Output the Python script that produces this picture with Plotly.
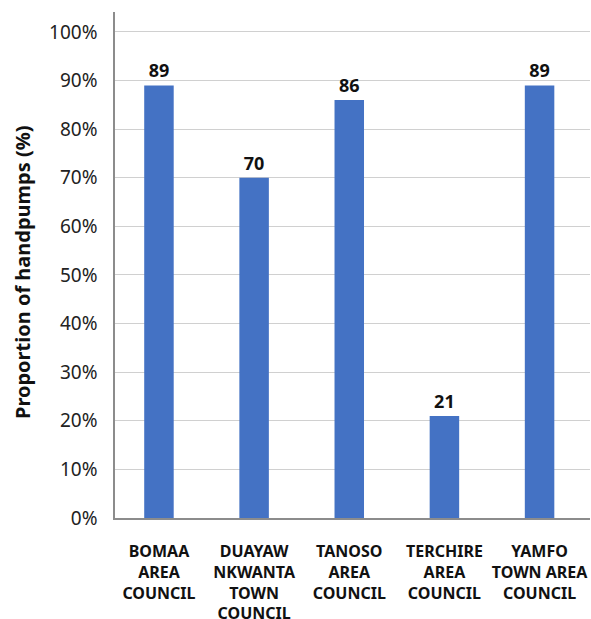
import plotly.graph_objects as go

# Share of functional handpumps by area council
councils = [
    "BOMAA<br>AREA<br>COUNCIL",
    "DUAYAW<br>NKWANTA<br>TOWN<br>COUNCIL",
    "TANOSO<br>AREA<br>COUNCIL",
    "TERCHIRE<br>AREA<br>COUNCIL",
    "YAMFO<br>TOWN AREA<br>COUNCIL",
]
proportion_pct = [89, 70, 86, 21, 89]
y_ticks = [0, 10, 20, 30, 40, 50, 60, 70, 80, 90, 100]
y_tick_labels = [f"{t}%" for t in y_ticks]
y_title = "Proportion of handpumps (%)"

FONT = "Noto Sans"
BAR_COLOR = "#4472C4"

fig = go.Figure(
    go.Bar(
        x=councils,
        y=proportion_pct,
        marker=dict(color=BAR_COLOR, line=dict(width=0)),
        text=[str(v) for v in proportion_pct],
        textposition="outside",
        textfont=dict(family=FONT, size=18, color="#111111", weight="bold"),
        cliponaxis=False,
    )
)

fig.update_layout(
    width=591,
    height=619,
    margin=dict(l=115, r=1, t=12, b=101),
    paper_bgcolor="white",
    plot_bgcolor="white",
    bargap=0.69,
    showlegend=False,
    font=dict(family=FONT),
)

fig.update_xaxes(
    range=[-0.462, 4.53],
    automargin=False,
    showgrid=False,
    showline=True,
    linecolor="#8c8c8c",
    linewidth=1.5,
    ticks="outside",
    ticklen=18,
    tickcolor="rgba(0,0,0,0)",
    tickfont=dict(family=FONT, size=16, color="#111111", weight="bold"),
    tickangle=0,
)

fig.update_yaxes(
    range=[0, 104.1],
    automargin=False,
    tickvals=y_ticks,
    ticktext=y_tick_labels,
    showgrid=True,
    gridcolor="#d0d0d0",
    gridwidth=1,
    showline=True,
    linecolor="#8c8c8c",
    linewidth=1.5,
    zeroline=False,
    ticks="outside",
    ticklen=12,
    tickcolor="rgba(0,0,0,0)",
    tickfont=dict(family=FONT, size=19, color="#222222"),
)

# Vertical axis title placed as a rotated annotation
fig.add_annotation(
    text=y_title,
    textangle=-90,
    xref="paper",
    yref="paper",
    x=-0.196,
    y=0.486,
    xanchor="center",
    yanchor="middle",
    showarrow=False,
    font=dict(family=FONT, size=20, color="#111111", weight="bold"),
)

fig.write_html("out.html")
